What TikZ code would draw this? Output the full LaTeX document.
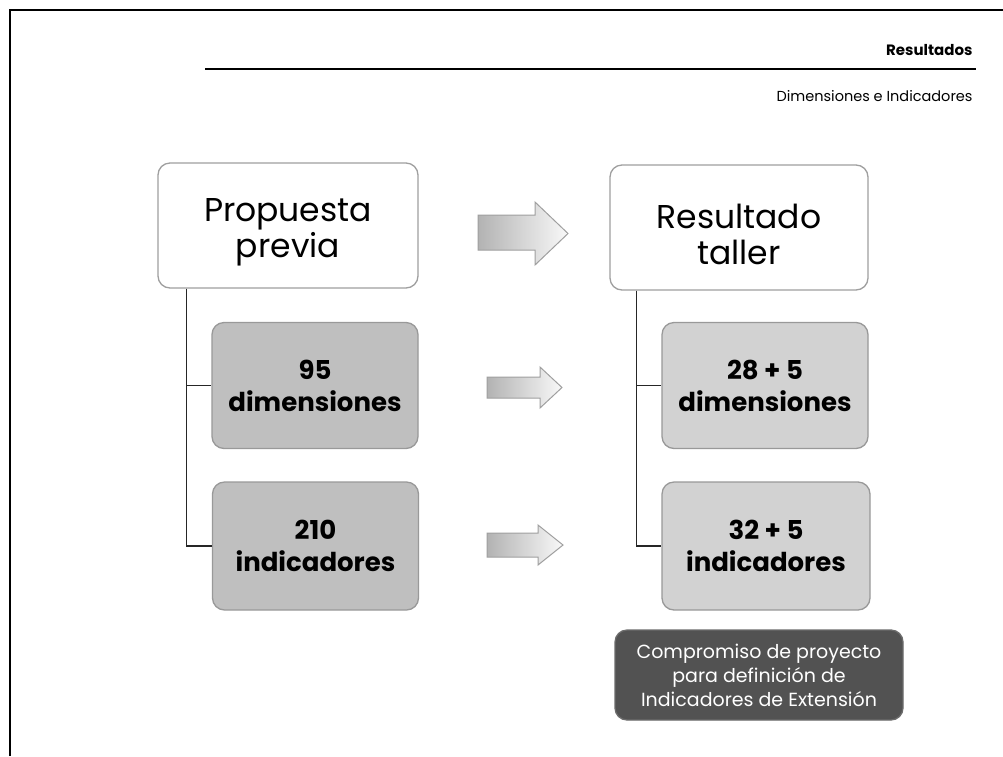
\documentclass[tikz,border=0pt]{standalone}
\usepackage{fontspec}
\setmainfont{Poppins}
\begin{document}
\begin{tikzpicture}[x=1pt,y=-1pt,
  topbox/.style={draw=gray!75, line width=1.3pt, rounded corners=12pt, fill=white, inner sep=0pt},
  toptext/.style={label={[align=center, font=\fontsize{33}{36}\selectfont, yshift=-7pt]center:#1}},
  leftbox/.style={draw=gray!80, line width=1.3pt, rounded corners=12pt, fill=gray!50, align=center, font=\fontsize{26}{32}\selectfont\bfseries, inner sep=0pt, minimum width=206pt, minimum height=126pt},
  rightbox/.style={leftbox, fill=gray!35},
  darkbox/.style={draw=gray!85!black, line width=1.3pt, rounded corners=12pt, fill=black!68, text=white, align=center, font=\fontsize{19}{24}\selectfont, inner sep=0pt, minimum width=288pt, minimum height=90pt},
  conn/.style={line width=1.4pt, draw=black!85},
  arrowshape/.style={left color=gray!60, right color=gray!5, draw=gray!75, line width=1pt}
]
\useasboundingbox (0,0) rectangle (1003,756);
\fill[white] (0,0) rectangle (1003,756);
% frame
\draw[line width=2pt] (10,756) -- (10,10) -- (1003,10);
% header
\node[anchor=east, font=\fontsize{15}{18}\selectfont\bfseries] (res) at (976,50) {Resultados};
\draw[line width=1.4pt] (205,69) -- (976,69);
\node[anchor=east, font=\fontsize{14.5}{18}\selectfont] (dim) at (976,96) {Dimensiones e Indicadores};
% left column
\node[topbox, minimum width=260pt, minimum height=125pt, toptext={Propuesta\\previa}] (prop) at (288,225.5) {};
\node[leftbox] (d95) at (315,385.5) {95\\dimensiones};
\node[leftbox, minimum height=128pt] (i210) at (315.5,546) {210\\indicadores};
% right column
\node[topbox, minimum width=258pt, minimum height=125pt, toptext={Resultado\\taller}] (resT) at (739,227.5) {};
\node[rightbox] (d28) at (765,385.5) {28 + 5\\dimensiones};
\node[rightbox, minimum height=128pt, minimum width=208pt] (i32) at (766,546) {32 + 5\\indicadores};
\node[darkbox] (comp) at (759,675) {Compromiso de proyecto\\para definición de\\Indicadores de Extensión};
% connectors
\draw[conn] ([xshift=29pt]prop.south west) |- (d95.west);
\draw[conn] ([xshift=29pt]prop.south west) |- (i210.west);
\draw[conn] ([xshift=27pt]resT.south west) |- (d28.west);
\draw[conn] ([xshift=27pt]resT.south west) |- (i32.west);
% arrows
\shade[arrowshape] (478,215) -- (535,215) -- (535,202) -- (568,233.5) -- (535,265) -- (535,250) -- (478,250) -- cycle;
\shade[arrowshape] (487,377) -- (540,377) -- (540,367) -- (562,387.5) -- (540,408) -- (540,398) -- (487,398) -- cycle;
\shade[arrowshape] (487,533) -- (538,533) -- (538,525) -- (563,545) -- (538,565) -- (538,557) -- (487,557) -- cycle;
\end{tikzpicture}
\end{document}
